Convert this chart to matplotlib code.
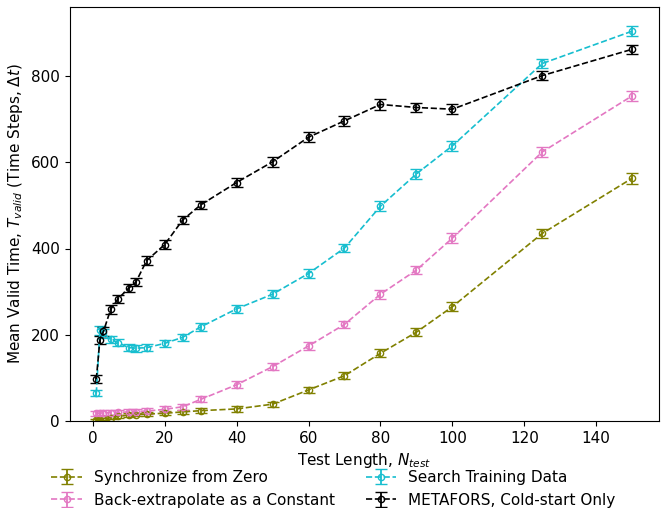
import matplotlib
matplotlib.use("Agg")
import matplotlib.pyplot as plt

# Test lengths
n_test = [1, 2, 3, 5, 7, 10, 12, 15, 20, 25, 30, 40, 50, 60, 70, 80, 90, 100, 125, 150]

# Mean valid time for each method
sync_zero = [2, 3, 5, 8, 11, 14, 15, 16, 18, 21, 24, 28, 39, 72, 105, 157, 206, 265, 435, 563]
sync_zero_err = [3, 3, 3, 4, 4, 4, 4, 4, 5, 5, 5, 6, 6, 7, 8, 9, 9, 10, 11, 13]

back_const = [18, 18, 19, 19, 20, 21, 22, 23, 27, 33, 50, 84, 126, 174, 224, 294, 350, 424, 624, 754]
back_const_err = [6, 6, 6, 6, 6, 6, 6, 6, 7, 7, 7, 8, 8, 9, 9, 10, 10, 11, 11, 12]

search_train = [64, 210, 203, 189, 182, 170, 169, 170, 180, 194, 218, 260, 294, 342, 401, 498, 573, 638, 829, 904]
search_train_err = [7, 10, 10, 9, 8, 8, 8, 8, 8, 8, 9, 9, 9, 10, 10, 11, 11, 11, 11, 11]

metafors = [97, 188, 208, 259, 283, 308, 322, 372, 409, 466, 501, 553, 601, 658, 696, 734, 727, 723, 801, 862]
metafors_err = [9, 10, 10, 10, 10, 10, 10, 10, 10, 10, 10, 11, 11, 11, 11, 12, 11, 11, 11, 11]

series = [
    ("Synchronize from Zero", sync_zero, sync_zero_err, "#808000"),
    ("Back-extrapolate as a Constant", back_const, back_const_err, "#e377c2"),
    ("Search Training Data", search_train, search_train_err, "#17becf"),
    ("METAFORS, Cold-start Only", metafors, metafors_err, "black"),
]

fig = plt.figure(figsize=(6.67, 5.08), dpi=100)
ax = fig.add_axes([69.5 / 667, 1 - 421 / 508, (659 - 69.5) / 667, (421 - 7) / 508])

for label, vals, errs, color in series:
    ax.errorbar(n_test, vals, yerr=errs, color=color, linestyle="--", linewidth=1.2,
                marker="o", markersize=4.5, markerfacecolor="none", markeredgewidth=1.0,
                capsize=4, elinewidth=1.3, capthick=1.3, label=label)

ax.set_ylim(0, 960)
ax.set_xticks([0, 20, 40, 60, 80, 100, 120, 140])
ax.set_yticks([0, 200, 400, 600, 800])
ax.tick_params(labelsize=11)
ax.set_xlabel(r"Test Length, $N_{test}$", fontsize=11)
ax.set_ylabel(r"Mean Valid Time, $T_{valid}$ (Time Steps, $\Delta t$)", fontsize=11)

handles, labels = ax.get_legend_handles_labels()
fig.legend(handles, labels, loc="upper center", bbox_to_anchor=(0.5, 0.102), ncol=2,
           frameon=False, fontsize=11, columnspacing=2.0, handlelength=2.0)

fig.savefig("out.png", dpi=100)
